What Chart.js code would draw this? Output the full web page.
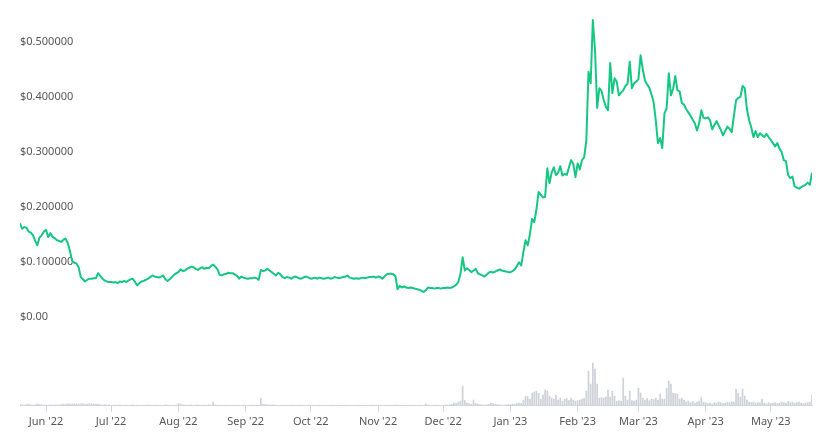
<!DOCTYPE html>
<html>
<head>
<meta charset="utf-8">
<script src="https://cdn.jsdelivr.net/npm/chart.js@4/dist/chart.umd.min.js"></script>
<style>
  html, body { margin: 0; padding: 0; background: #fff; }
  #wrap { position: relative; width: 831px; height: 434px; }
</style>
</head>
<body>
<div id="wrap"><canvas id="priceChart"></canvas></div>
<script>
// Daily price (USD), one array per month, starting 20 May 2022
const priceMay22 = [0.170,0.160,0.163,0.162,0.155,0.153,0.148,0.138,0.130,0.144,0.148,0.155];
const priceJun22 = [0.158,0.145,0.152,0.145,0.143,0.139,0.138,0.136,0.140,0.142,0.134,0.120,0.102,0.098,0.097,0.090,0.072,0.068,0.064,0.067,0.069,0.069,0.070,0.070,0.079,0.074,0.069,0.066,0.064,0.063];
const priceJul22 = [0.063,0.062,0.063,0.061,0.064,0.063,0.065,0.063,0.066,0.068,0.069,0.063,0.057,0.061,0.064,0.065,0.067,0.069,0.072,0.075,0.073,0.072,0.071,0.073,0.075,0.068,0.065,0.068,0.072,0.076,0.079];
const priceAug22 = [0.081,0.086,0.083,0.084,0.087,0.089,0.091,0.090,0.087,0.085,0.088,0.090,0.087,0.089,0.088,0.092,0.095,0.091,0.086,0.076,0.075,0.077,0.078,0.080,0.079,0.079,0.077,0.074,0.069,0.073,0.071];
const priceSep22 = [0.070,0.069,0.070,0.070,0.071,0.070,0.067,0.085,0.083,0.084,0.087,0.084,0.081,0.078,0.075,0.080,0.077,0.072,0.070,0.072,0.071,0.069,0.072,0.073,0.071,0.069,0.070,0.072,0.073,0.071];
const priceOct22 = [0.069,0.070,0.071,0.069,0.071,0.070,0.069,0.070,0.071,0.069,0.070,0.072,0.071,0.070,0.071,0.072,0.073,0.075,0.071,0.070,0.069,0.070,0.069,0.070,0.071,0.070,0.071,0.072,0.072,0.073,0.071];
const priceNov22 = [0.073,0.072,0.069,0.073,0.077,0.078,0.078,0.077,0.074,0.050,0.056,0.053,0.055,0.053,0.052,0.053,0.052,0.051,0.050,0.049,0.047,0.045,0.048,0.053,0.052,0.052,0.051,0.052,0.052,0.051];
const priceDec22 = [0.052,0.052,0.053,0.052,0.053,0.055,0.058,0.063,0.078,0.108,0.084,0.088,0.085,0.081,0.084,0.087,0.079,0.077,0.075,0.073,0.076,0.080,0.082,0.080,0.082,0.084,0.086,0.084,0.083,0.082,0.081];
const priceJan23 = [0.081,0.083,0.086,0.092,0.099,0.093,0.118,0.139,0.130,0.150,0.178,0.172,0.195,0.227,0.222,0.217,0.218,0.270,0.243,0.262,0.272,0.258,0.262,0.274,0.257,0.260,0.258,0.272,0.285,0.278,0.254];
const priceFeb23 = [0.279,0.268,0.285,0.290,0.321,0.446,0.425,0.540,0.485,0.380,0.416,0.411,0.395,0.382,0.376,0.462,0.407,0.434,0.428,0.403,0.408,0.412,0.420,0.424,0.464,0.416,0.425,0.428];
const priceMar23 = [0.432,0.476,0.451,0.430,0.423,0.417,0.405,0.391,0.358,0.316,0.325,0.307,0.370,0.379,0.443,0.403,0.415,0.438,0.412,0.410,0.389,0.386,0.378,0.372,0.366,0.359,0.352,0.339,0.352,0.376,0.362];
const priceApr23 = [0.361,0.363,0.358,0.341,0.349,0.356,0.348,0.340,0.330,0.338,0.346,0.342,0.336,0.365,0.394,0.398,0.400,0.420,0.416,0.378,0.358,0.345,0.327,0.338,0.327,0.334,0.330,0.327,0.333,0.327];
const priceMay23 = [0.322,0.316,0.310,0.316,0.306,0.300,0.285,0.283,0.258,0.252,0.255,0.237,0.235,0.233,0.236,0.238,0.240,0.244,0.240,0.262];

// Daily volume (million USD), same days
const volMay22 = [18,12,10,15,20,12,10,14,22,16,12,10];
const volJun22 = [10,8,12,10,14,12,10,16,20,18,22,20,18,24,22,20,24,22,18,20,22,24,20,18,20,16,14,12,10,12];
const volJul22 = [8,6,10,8,12,6,8,10,8,6,12,8,10,8,6,8,10,12,8,6,8,10,8,6,8,12,10,8,6,8,10];
const volAug22 = [25,20,12,10,8,10,12,8,10,12,8,6,10,8,12,10,40,14,10,8,6,8,10,8,6,8,10,8,6,8,10];
const volSep22 = [8,6,8,10,8,6,8,80,20,15,12,10,14,12,8,6,8,10,8,6,8,10,8,6,8,10,8,6,8,10];
const volOct22 = [6,8,6,8,10,8,6,8,6,8,10,8,6,8,6,8,10,8,6,8,6,8,10,8,6,8,6,8,10,8,6];
const volNov22 = [6,8,6,8,10,8,6,8,12,10,8,6,8,6,8,10,8,6,8,10,8,6,20,12,8,6,8,10,8,6];
const volDec22 = [8,10,12,14,18,30,28,40,50,200,55,30,25,20,60,30,20,15,12,10,14,18,30,25,20,15,12,10,8,12,15];
const volJan23 = [15,20,18,25,30,28,60,100,95,70,130,140,150,125,70,110,160,150,100,80,70,110,60,80,50,70,75,55,80,60,50];
const volFeb23 = [55,60,70,80,150,350,220,430,370,220,80,85,80,90,160,90,150,100,50,55,50,280,100,60,150,55,50,60];
const volMar23 = [180,130,80,60,75,55,70,65,80,60,120,70,70,180,250,220,130,125,120,70,80,60,40,50,35,45,30,40,50,85,40];
const volApr23 = [35,25,30,20,35,30,40,35,25,30,40,35,45,40,170,130,90,170,100,60,40,35,40,30,35,35,70,30,25,35];
const volMay23 = [25,30,35,25,30,40,35,30,45,35,40,30,35,40,30,25,30,35,40,110];

// Axis labels
const startDay = Date.UTC(2022, 4, 20);
const monthStarts = [[2022,5],[2022,6],[2022,7],[2022,8],[2022,9],[2022,10],[2022,11],[2023,0],[2023,1],[2023,2],[2023,3],[2023,4]];
const monthLabels = ["Jun '22","Jul '22","Aug '22","Sep '22","Oct '22","Nov '22","Dec '22","Jan '23","Feb '23","Mar '23","Apr '23","May '23"];
const priceTicks = [0, 0.1, 0.2, 0.3, 0.4, 0.5];

const prices = [].concat(priceMay22, priceJun22, priceJul22, priceAug22, priceSep22, priceOct22,
  priceNov22, priceDec22, priceJan23, priceFeb23, priceMar23, priceApr23, priceMay23);
const volumes = [].concat(volMay22, volJun22, volJul22, volAug22, volSep22, volOct22,
  volNov22, volDec22, volJan23, volFeb23, volMar23, volApr23, volMay23);

const dayMs = 86400000;
const tickDays = monthStarts.map(([y, m]) => Math.round((Date.UTC(y, m, 1) - startDay) / dayMs));

const axisColor = "#cfd6e4";
const textColor = "#585858";
const font = { family: "'Noto Sans', 'Open Sans', sans-serif", size: 11 };

new Chart(document.getElementById("priceChart"), {
  data: {
    datasets: [
      {
        type: "line",
        data: prices.map((p, i) => ({ x: i, y: p })),
        borderColor: "#16c784",
        borderWidth: 2,
        borderJoinStyle: "round",
        pointRadius: 0,
        tension: 0,
        yAxisID: "y",
        order: 1,
      },
      {
        type: "bar",
        data: volumes.map((v, i) => ({ x: i, y: v })),
        backgroundColor: "#cfd2d9",
        barPercentage: 0.8,
        categoryPercentage: 1,
        yAxisID: "vol",
        order: 2,
      },
    ],
  },
  options: {
    responsive: true,
    maintainAspectRatio: false,
    animation: false,
    layout: { padding: { left: 12, right: 19, top: 10, bottom: 3 } },
    plugins: { legend: { display: false }, tooltip: { enabled: false } },
    scales: {
      x: {
        type: "linear",
        offset: false,
        min: 0,
        max: prices.length - 1,
        afterBuildTicks: (axis) => { axis.ticks = tickDays.map((v) => ({ value: v })); },
        ticks: {
          autoSkip: false,
          maxRotation: 0,
          padding: 3,
          color: textColor,
          font: font,
          callback: (value, index) => monthLabels[index],
        },
        grid: { offset: false, drawOnChartArea: false, drawTicks: true, tickLength: 6, color: axisColor },
        border: { display: true, color: axisColor },
      },
      y: {
        position: "left",
        min: -0.16241,
        max: 0.55839,
        afterBuildTicks: (axis) => { axis.ticks = priceTicks.map((v) => ({ value: v })); },
        ticks: {
          mirror: true,
          padding: 0,
          color: textColor,
          font: font,
          callback: (value) => (value === 0 ? "$0.00" : "$" + value.toFixed(6)),
        },
        grid: { display: false },
        border: { display: false },
      },
      vol: {
        display: false,
        min: 0,
        max: 3950,
      },
    },
  },
});
</script>
</body>
</html>
